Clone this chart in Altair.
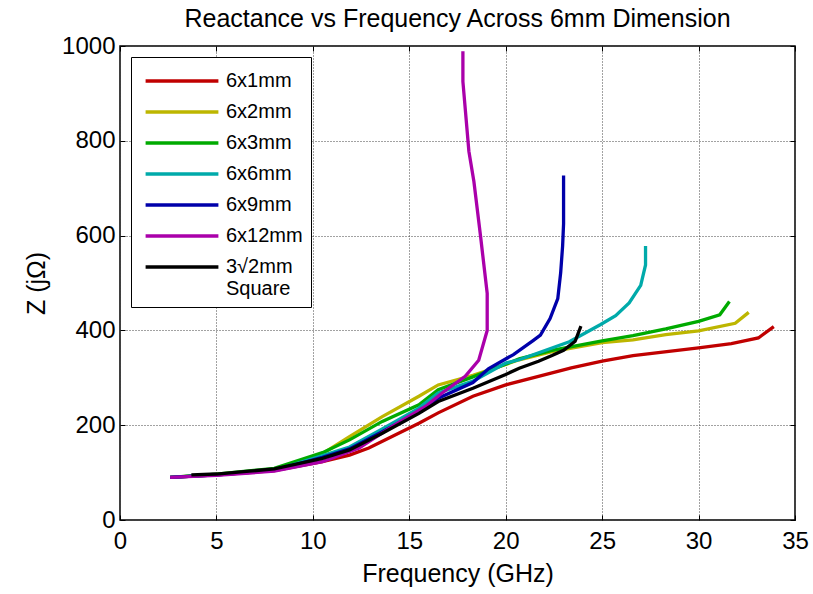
import altair as alt
import pandas as pd

# Reactance curves for each dimension (frequency in GHz, reactance in jOhm)
series_names = ["6x1mm", "6x2mm", "6x3mm", "6x6mm", "6x9mm", "6x12mm", "3√2mm Square"]
series_colors = ["#C00000", "#BDB600", "#00AA00", "#00AAAA", "#0000AA", "#AA00AA", "#000000"]

f_6x1 = [2.6, 5.0, 8.0, 10.5, 11.9, 12.9, 15.5, 16.5, 18.3, 20.0, 21.7, 23.4, 25.0, 26.6, 30.0, 31.7, 33.1, 33.9]
z_6x1 = [90, 95, 104, 123, 137, 152, 204, 226, 261, 285, 303, 321, 335, 347, 363, 372, 384, 408]

f_6x2 = [2.6, 5.0, 8.0, 10.5, 11.9, 13.6, 15.5, 16.5, 18.3, 20.7, 22.4, 25.0, 26.6, 28.3, 30.0, 31.9, 32.6]
z_6x2 = [90, 96, 107, 140, 176, 218, 261, 285, 305, 338, 355, 374, 380, 391, 399, 415, 438]

f_6x3 = [2.6, 5.0, 8.0, 10.5, 11.9, 13.6, 15.5, 16.5, 18.3, 20.7, 22.4, 25.0, 26.6, 28.3, 30.0, 31.1, 31.6]
z_6x3 = [90, 97, 109, 142, 169, 208, 243, 275, 302, 340, 358, 378, 389, 403, 419, 433, 461]

f_6x6 = [2.6, 5.0, 8.0, 10.5, 11.9, 13.6, 15.5, 16.5, 18.3, 20.0, 20.7, 23.3, 24.9, 25.7, 26.4, 27.0, 27.25, 27.25]
z_6x6 = [90, 95, 105, 136, 154, 192, 236, 268, 293, 331, 338, 376, 412, 431, 458, 495, 538, 578]

f_6x9 = [2.6, 5.0, 8.0, 10.5, 11.9, 13.6, 15.5, 16.5, 18.3, 19.1, 20.4, 21.4, 21.8, 22.3, 22.7, 22.85, 22.95, 23.0, 23.0]
z_6x9 = [90, 95, 105, 132, 150, 186, 228, 257, 290, 319, 349, 378, 390, 425, 467, 522, 578, 625, 727]

f_6x12 = [2.6, 5.0, 8.0, 10.5, 12.4, 14.1, 15.85, 16.7, 17.9, 18.6, 19.04, 19.04, 18.7, 18.35, 18.09, 17.78, 17.78]
z_6x12 = [90, 94, 103, 123, 152, 197, 240, 268, 303, 337, 400, 478, 597, 714, 778, 925, 989]

f_sq = [3.7, 5.0, 6.7, 8.0, 10.5, 11.9, 13.6, 15.5, 16.5, 18.3, 20.0, 20.7, 21.7, 22.4, 23.0, 23.6, 23.9]
z_sq = [95, 97, 103, 108, 130, 148, 183, 225, 250, 278, 307, 320, 335, 347, 358, 377, 409]

x_ticks = [0, 5, 10, 15, 20, 25, 30, 35]
y_ticks = [0, 200, 400, 600, 800, 1000]

rows = []
for name, fs, zs in zip(
    series_names,
    [f_6x1, f_6x2, f_6x3, f_6x6, f_6x9, f_6x12, f_sq],
    [z_6x1, z_6x2, z_6x3, z_6x6, z_6x9, z_6x12, z_sq],
):
    for i, (f, z) in enumerate(zip(fs, zs)):
        rows.append({"series": name, "idx": i, "freq": f, "z": z})
df = pd.DataFrame(rows)

FONT = "Liberation Sans"

x_scale = alt.Scale(domain=[0, 35], nice=False, zero=False)
y_scale = alt.Scale(domain=[0, 1000], nice=False)

# long horizontal stroke used as the legend swatch
swatch = "M-2.6,0H2.6"

lines = alt.Chart(df).mark_line(strokeWidth=3.3, strokeJoin="miter").encode(
    x=alt.X(
        "freq:Q",
        scale=x_scale,
        axis=alt.Axis(
            title="Frequency (GHz)", values=x_ticks, orient="bottom", offset=-5,
            tickSize=5, tickColor="black", domain=False, labelPadding=9,
            labelFlush=False, format="d",
            grid=True, gridDash=[1, 2], gridColor="#444444", gridOpacity=1,
            titlePadding=8,
        ),
    ),
    y=alt.Y(
        "z:Q",
        scale=y_scale,
        axis=alt.Axis(
            title="Z (jΩ)", values=y_ticks, orient="left", offset=-5,
            tickSize=5, tickColor="black", domain=False, labelPadding=5,
            labelFlush=False, format="d",
            grid=True, gridDash=[1, 2], gridColor="#444444", gridOpacity=1,
            titlePadding=12,
        ),
    ),
    color=alt.Color(
        "series:N",
        scale=alt.Scale(domain=series_names, range=series_colors),
        legend=alt.Legend(
            title=None, orient="none", legendX=11, legendY=11,
            symbolType=swatch, symbolSize=784, symbolStrokeWidth=3.3,
            symbolOffset=27, labelOffset=28,
            labelFontSize=20, labelFont=FONT, labelLimit=300,
            rowPadding=5, padding=8, strokeColor="black",
            fillColor="white",
            labelExpr="datum.label == '3√2mm Square' ? ['3√2mm', 'Square'] : datum.label",
        ),
    ),
    order=alt.Order("idx:Q"),
)

# top and right edges carry inward tick marks only
frame = alt.Chart(df).mark_point(opacity=0).encode(
    x=alt.X("freq:Q", scale=x_scale, axis=alt.Axis(
        orient="top", values=x_ticks, labels=False, title=None, domain=False,
        grid=False, offset=-5, tickSize=5, tickColor="black")),
    y=alt.Y("z:Q", scale=y_scale, axis=alt.Axis(
        orient="right", values=y_ticks, labels=False, title=None, domain=False,
        grid=False, offset=-5, tickSize=5, tickColor="black")),
)

chart = (
    alt.layer(lines, frame)
    .resolve_axis(x="independent", y="independent")
    .properties(
        width=675,
        height=474,
        title=alt.Title(
            "Reactance vs Frequency Across 6mm Dimension",
            fontSize=25, font=FONT, fontWeight="normal", offset=2,
        ),
        padding={"left": 120, "top": 46, "right": 18, "bottom": 74},
        autosize=alt.AutoSizeParams(type="none"),
    )
    .configure_view(stroke="black", strokeWidth=1.5)
    .configure_axis(
        labelFont=FONT, labelFontSize=24, labelColor="black",
        titleFont=FONT, titleFontSize=25, titleFontWeight="normal", titleColor="black",
    )
)

chart.save("out.html", embed_options={"renderer": "svg", "actions": False})
